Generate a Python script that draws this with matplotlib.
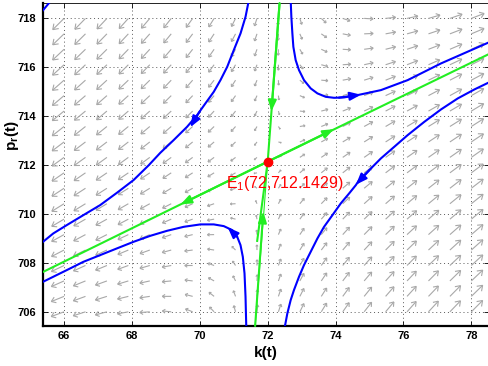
import numpy as np
import matplotlib
matplotlib.use('Agg')
import matplotlib.pyplot as plt
from matplotlib.collections import LineCollection

plt.rcParams['font.family'] = 'Liberation Sans'
plt.rcParams['mathtext.fontset'] = 'custom'
plt.rcParams['mathtext.rm'] = 'Liberation Sans'
plt.rcParams['mathtext.bf'] = 'Liberation Sans:bold'

# equilibrium and local saddle directions
E = (72.0, 712.1429)
unstable_dir = (1.0, 0.68)
stable_dir = (0.055, 1.0)
rate_ratio = 0.483          # |lambda_s| / lambda_u

# quiver grid
grid_k = np.linspace(66, 78, 20)
grid_p = np.linspace(706, 718, 20)

# trajectories (k, p)
traj_a_k = [71.445, 71.347, 71.2, 71.001, 70.807, 70.609, 70.411, 70.165, 69.92, 69.625,
            69.229, 68.836, 68.49, 68.047, 67.557, 67.064, 66.57, 66.08, 65.684, 65.38]
traj_a_p = [718.75, 718.065, 717.387, 716.703, 716.02, 715.477, 714.998, 714.524, 714.045, 713.567,
            713.023, 712.503, 711.988, 711.387, 710.867, 710.364, 709.955, 709.546, 709.207, 708.863]
traj_b_k = [72.677, 72.697, 72.727, 72.756, 72.824, 72.922, 73.069, 73.267, 73.465, 73.71,
            73.956, 74.251, 74.647, 75.335, 76.124, 77.107, 78.555]
traj_b_p = [718.75, 718.065, 717.387, 716.838, 716.294, 715.885, 715.476, 715.137, 714.933, 714.793,
            714.753, 714.769, 714.863, 715.067, 715.476, 716.16, 717.043]
traj_c_k = [65.38, 66.08, 66.57, 67.064, 67.557, 68.047, 68.541, 69.034, 69.524, 70.018,
            70.411, 70.706, 70.954, 71.102, 71.199, 71.267, 71.317, 71.347, 71.368]
traj_c_p = [707.227, 707.706, 708.045, 708.319, 708.593, 708.863, 709.108, 709.313, 709.476, 709.575,
            709.575, 709.505, 709.342, 709.067, 708.728, 708.25, 707.571, 706.613, 705.415]
traj_d_k = [72.508, 72.579, 72.677, 72.774, 72.922, 73.069, 73.267, 73.465, 73.66, 73.908,
            74.153, 74.399, 74.597, 74.694, 74.943, 75.335, 75.728, 76.124, 76.615, 77.107,
            77.6, 78.092, 78.555]
traj_d_p = [705.415, 705.935, 706.48, 706.89, 707.432, 707.91, 708.456, 709.002, 709.476, 709.955,
            710.434, 710.842, 711.182, 711.387, 711.726, 712.274, 712.748, 713.227, 713.771, 714.278,
            714.728, 715.096, 715.407]
traj_e_k = [65.3, 65.6]
traj_e_p = [718.2, 718.7]

# separatrices
unst_k = [65.38, 72.0, 78.56]
unst_p = [707.63, 712.1429, 716.57]
stab_top_k = [72.35, 72.0]
stab_top_p = [718.63, 712.1429]
stab_bot_k = [71.63, 72.0]
stab_bot_p = [705.42, 712.1429]

# arrowheads: (tail, tip)
blue_arrows = [((70.0, 714.2), (69.72, 713.55)),
               ((74.1, 714.76), (74.75, 714.88)),
               ((71.1, 709.07), (70.82, 709.46)),
               ((75.0, 711.8), (74.6, 711.2))]
green_arrows = [((72.0, 712.1429), (69.43, 710.39)),
                ((72.0, 712.1429), (73.95, 713.47)),
                ((72.35, 718.63), (72.11, 714.2)),
                ((71.63, 705.42), (71.87, 710.1))]

xlim = (65.38, 78.52)
ylim = (705.42, 718.63)

fig = plt.figure(figsize=(4.89, 3.66), dpi=100)
ax = fig.add_axes([43/489, 40/366, 446/489, 323/366])
ax.set_xlim(xlim)
ax.set_ylim(ylim)

# pixels per data unit
sx = 446 / (xlim[1] - xlim[0])
sy = 323 / (ylim[1] - ylim[0])

# vector field from the local saddle picture
K, P = np.meshgrid(grid_k, grid_p)
dk, dp = K - E[0], P - E[1]
M = np.array([[unstable_dir[0], stable_dir[0]], [unstable_dir[1], stable_dir[1]]])
Minv = np.linalg.inv(M)
a = Minv[0, 0]*dk + Minv[0, 1]*dp
b = Minv[1, 0]*dk + Minv[1, 1]*dp
U = a*unstable_dir[0] - rate_ratio*b*stable_dir[0]
V = a*unstable_dir[1] - rate_ratio*b*stable_dir[1]
mag = np.hypot(U, V)
cell = grid_k[1] - grid_k[0]
scale = 0.9*cell*np.sqrt(mag/mag.max())/mag

segs = []
for i in range(K.shape[0]):
    for j in range(K.shape[1]):
        x0, y0 = K[i, j], P[i, j]
        x1, y1 = x0 + U[i, j]*scale[i, j], y0 + V[i, j]*scale[i, j]
        # head in pixel space
        px, py = (x1 - x0)*sx, (y1 - y0)*sy
        L = np.hypot(px, py)
        ang = np.arctan2(py, px)
        hl = 0.38*L
        segs.append([(x0, y0), (x1, y1)])
        for d in (np.radians(35), -np.radians(35)):
            hx = x1 - hl*np.cos(ang + d)/sx
            hy = y1 - hl*np.sin(ang + d)/sy
            segs.append([(x1, y1), (hx, hy)])
ax.add_collection(LineCollection(segs, colors='#a8a8a8', linewidths=0.8, zorder=2))

blue = '#0000ff'
green = '#22ee22'
for kk, pp in [(traj_a_k, traj_a_p), (traj_b_k, traj_b_p), (traj_c_k, traj_c_p),
               (traj_d_k, traj_d_p), (traj_e_k, traj_e_p)]:
    ax.plot(kk, pp, color=blue, lw=1.5, zorder=3, solid_joinstyle='round')

ax.plot(unst_k, unst_p, color=green, lw=1.5, zorder=4)
ax.plot(stab_top_k, stab_top_p, color=green, lw=1.5, zorder=4)
ax.plot(stab_bot_k, stab_bot_p, color=green, lw=0.8, zorder=4)
ax.plot([71.69, 72.0], [708.9, 712.1429], color=green, lw=1.5, zorder=4)

for (t, h) in blue_arrows:
    ax.annotate('', xy=h, xytext=t,
                arrowprops=dict(arrowstyle='-|>,head_length=0.65,head_width=0.25',
                                color=blue, lw=1.5, shrinkA=0, shrinkB=0), zorder=5)
for (t, h) in green_arrows:
    ax.annotate('', xy=h, xytext=t,
                arrowprops=dict(arrowstyle='-|>,head_length=0.65,head_width=0.25',
                                color=green, lw=1.5, shrinkA=0, shrinkB=0), zorder=5)

ax.plot(E[0], E[1], 'o', color='red', ms=6, zorder=6)
ax.text(70.76, 711.05, 'E$_1$(72,712.1429)', color='red', fontsize=11.5,
        ha='left', va='baseline', zorder=7)

ax.set_xticks([66, 68, 70, 72, 74, 76, 78])
ax.set_yticks([706, 708, 710, 712, 714, 716, 718])
ax.grid(True, color='0.35', linestyle=(0, (1, 3)), linewidth=0.7)
ax.tick_params(direction='in', length=3.5, width=0.6, top=True, right=True, labelsize=8)
ax.tick_params(axis='x', pad=3.5)
ax.tick_params(axis='y', pad=5)
for lab in ax.get_xticklabels() + ax.get_yticklabels():
    lab.set_fontweight('bold')
for s in ['left', 'bottom']:
    ax.spines[s].set_linewidth(1.6)
for s in ['top', 'right']:
    ax.spines[s].set_linewidth(0.6)

ax.set_xlabel('k(t)', fontsize=11, fontweight='bold')
ax.set_ylabel(r'$\mathbf{p_r(t)}$', fontsize=11)
ax.xaxis.set_label_coords(0.5, -0.062)
ax.xaxis.label.set_va('top')
ax.yaxis.set_label_coords(-0.05, 0.59)

fig.savefig('out.png', dpi=100)
